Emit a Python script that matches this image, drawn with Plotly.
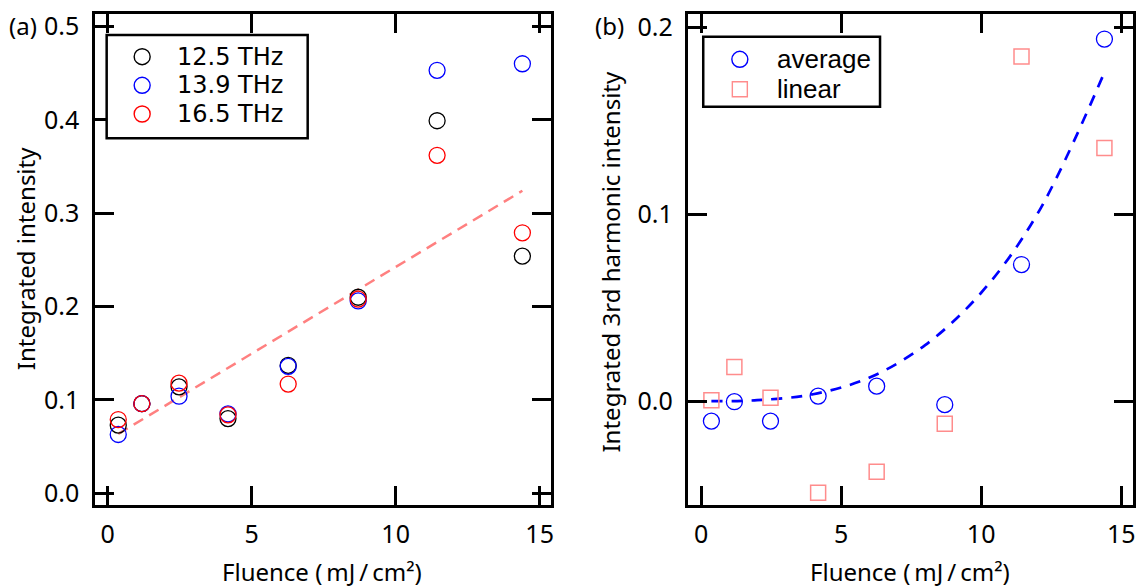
import plotly.graph_objects as go

# ---------------------------------------------------------------------------
# Data
# ---------------------------------------------------------------------------
fluence = [0.37, 1.19, 2.48, 4.18, 6.27, 8.70, 11.44, 14.40]

# panel (a): integrated intensity per mode
int_125 = [0.073, 0.096, 0.114, 0.080, 0.137, 0.210, 0.399, 0.254]
int_139 = [0.063, 0.096, 0.104, 0.085, 0.136, 0.206, 0.453, 0.460]
int_165 = [0.079, 0.096, 0.118, 0.084, 0.117, 0.208, 0.362, 0.279]
fit_a_x = [0.37, 14.40]
fit_a_y = [0.0636, 0.324]

# panel (b): integrated 3rd harmonic intensity
avg_3rd = [-0.0107, -0.0003, -0.0107, 0.0027, 0.0080, -0.0019, 0.0731, 0.1938]
lin_3rd = [0.0005, 0.0182, 0.0018, -0.0490, -0.0378, -0.0121, 0.1845, 0.1355]
fit_b_x = [0.37, 2.0, 4.0, 6.0, 8.0, 10.0, 12.0, 14.40]
fit_b_y = [0.0, 0.0005, 0.0037, 0.0125, 0.0300, 0.0580, 0.1000, 0.1760]

legend_a = ["12.5 THz", "13.9 THz", "16.5 THz"]
legend_b = ["average", "linear"]

FONT = "Noto Sans"
BLACK, BLUE, RED, PINK = "black", "#0000FF", "#FF0000", "#FF8C8C"

# figure / plot-area geometry (px)
W, H = 1143, 587
ML, MR, MT, MB = 95, 7, 14, 82
PW, PH = W - ML - MR, H - MT - MB


def px(x):
    return (x - ML) / PW


def py(y):
    return (H - MB - y) / PH


fig = go.Figure()

# --- panel (a) ---
fig.add_trace(go.Scatter(
    x=fit_a_x, y=fit_a_y, mode="lines",
    line=dict(color="#FF8080", width=2.5, dash="11px,7px"),
    showlegend=False, xaxis="x", yaxis="y",
))
for vals, color in zip([int_125, int_139, int_165], [BLACK, BLUE, RED]):
    fig.add_trace(go.Scatter(
        x=fluence, y=vals, mode="markers",
        marker=dict(symbol="circle-open", size=16, color=color,
                    line=dict(width=1.3, color=color)),
        showlegend=False, xaxis="x", yaxis="y",
    ))

# --- panel (b) ---
fig.add_trace(go.Scatter(
    x=fit_b_x, y=fit_b_y, mode="lines", line_shape="spline",
    line=dict(color=BLUE, width=2.7, dash="11px,9px"),
    showlegend=False, xaxis="x2", yaxis="y2",
))
fig.add_trace(go.Scatter(
    x=fluence, y=avg_3rd, mode="markers",
    marker=dict(symbol="circle-open", size=16, color=BLUE,
                line=dict(width=1.3, color=BLUE)),
    showlegend=False, xaxis="x2", yaxis="y2",
))
fig.add_trace(go.Scatter(
    x=fluence, y=lin_3rd, mode="markers",
    marker=dict(symbol="square-open", size=15, color=PINK,
                line=dict(width=1.5, color=PINK)),
    showlegend=False, xaxis="x2", yaxis="y2",
))

# ---------------------------------------------------------------------------
# Boxed legends drawn by hand (Igor-style tight rows)
# ---------------------------------------------------------------------------
shapes, annotations = [], []


def legend_box(x0, y0, x1, y1, sym_x, text_x, rows, font):
    shapes.append(dict(type="rect", xref="paper", yref="paper",
                       x0=px(x0), x1=px(x1), y0=py(y1), y1=py(y0),
                       line=dict(color="black", width=2.5),
                       fillcolor="white", layer="above"))
    for label, kind, color, size, yc in rows:
        r = size / 2
        shapes.append(dict(type=kind, xref="paper", yref="paper",
                           xsizemode="pixel", ysizemode="pixel",
                           xanchor=px(sym_x), yanchor=py(yc),
                           x0=-r, x1=r, y0=-r, y1=r,
                           line=dict(color=color, width=1.4),
                           layer="above"))
        annotations.append(dict(text=label, xref="paper", yref="paper",
                                x=px(text_x), y=py(yc), xanchor="left",
                                yanchor="middle", showarrow=False,
                                font=font))


legend_box(106.7, 35, 308.3, 138.3, 142.3, 175,
           [(legend_a[0], "circle", BLACK, 16, 56.7),
            (legend_a[1], "circle", BLUE, 16, 85.3),
            (legend_a[2], "circle", RED, 16, 114.0)],
           dict(family="DejaVu Sans", size=24, color="black"))
legend_box(705, 36.7, 882.3, 106.7, 741.7, 777,
           [(legend_b[0], "circle", BLUE, 16, 59.3),
            (legend_b[1], "rect", PINK, 15, 89.3)],
           dict(family="Liberation Sans", size=26, color="black"))

# panel letters and axis titles
TXT = dict(family=FONT, size=24, color="black")
XTITLE = "Fluence (\u2009mJ\u2009/\u2009cm\u00b2)"
for text, x, y, angle in [
    ("(a)", 23, 25, 0),
    ("(b)", 611, 25, 0),
    ("Integrated intensity", 25, 259, -90),
    ("Integrated 3rd harmonic intensity", 611, 262, -90),
    (XTITLE, 323, 571, 0),
    (XTITLE, 912, 571, 0),
]:
    annotations.append(dict(text=text, x=px(x), y=py(y), xref="paper",
                            yref="paper", textangle=angle, xanchor="center",
                            yanchor="middle", showarrow=False, font=TXT))

axis_common = dict(
    showline=True, linecolor="black", linewidth=2.5, mirror="allticks",
    ticks="inside", ticklen=19, tickwidth=2.5, tickcolor="black",
    showgrid=False, zeroline=False,
    tickfont=dict(family=FONT, size=25, color="black"),
)

fig.update_layout(
    width=W, height=H,
    margin=dict(l=ML, r=MR, t=MT, b=MB),
    paper_bgcolor="white", plot_bgcolor="white",
    font=dict(family=FONT, size=24, color="black"),
    showlegend=False,
    xaxis=dict(domain=[0, px(552.5)], range=[-0.437, 15.40], dtick=5,
               ticklabelstandoff=5, anchor="y", **axis_common),
    yaxis=dict(domain=[0, 1], range=[-0.0125, 0.5133], dtick=0.1,
               tickformat=".1f", ticklabelstandoff=8, anchor="x",
               **axis_common),
    xaxis2=dict(domain=[px(690.2), 1], range=[-0.448, 15.42], dtick=5,
                ticklabelstandoff=5, anchor="y2", **axis_common),
    yaxis2=dict(domain=[0, 1], range=[-0.0556, 0.2072], dtick=0.1,
                tickformat=".1f", ticklabelstandoff=8, anchor="x2",
                **axis_common),
    shapes=shapes,
    annotations=annotations,
)

fig.write_html("out.html", config=dict(displayModeBar=False),
               post_script="document.body.style.margin='0';")
